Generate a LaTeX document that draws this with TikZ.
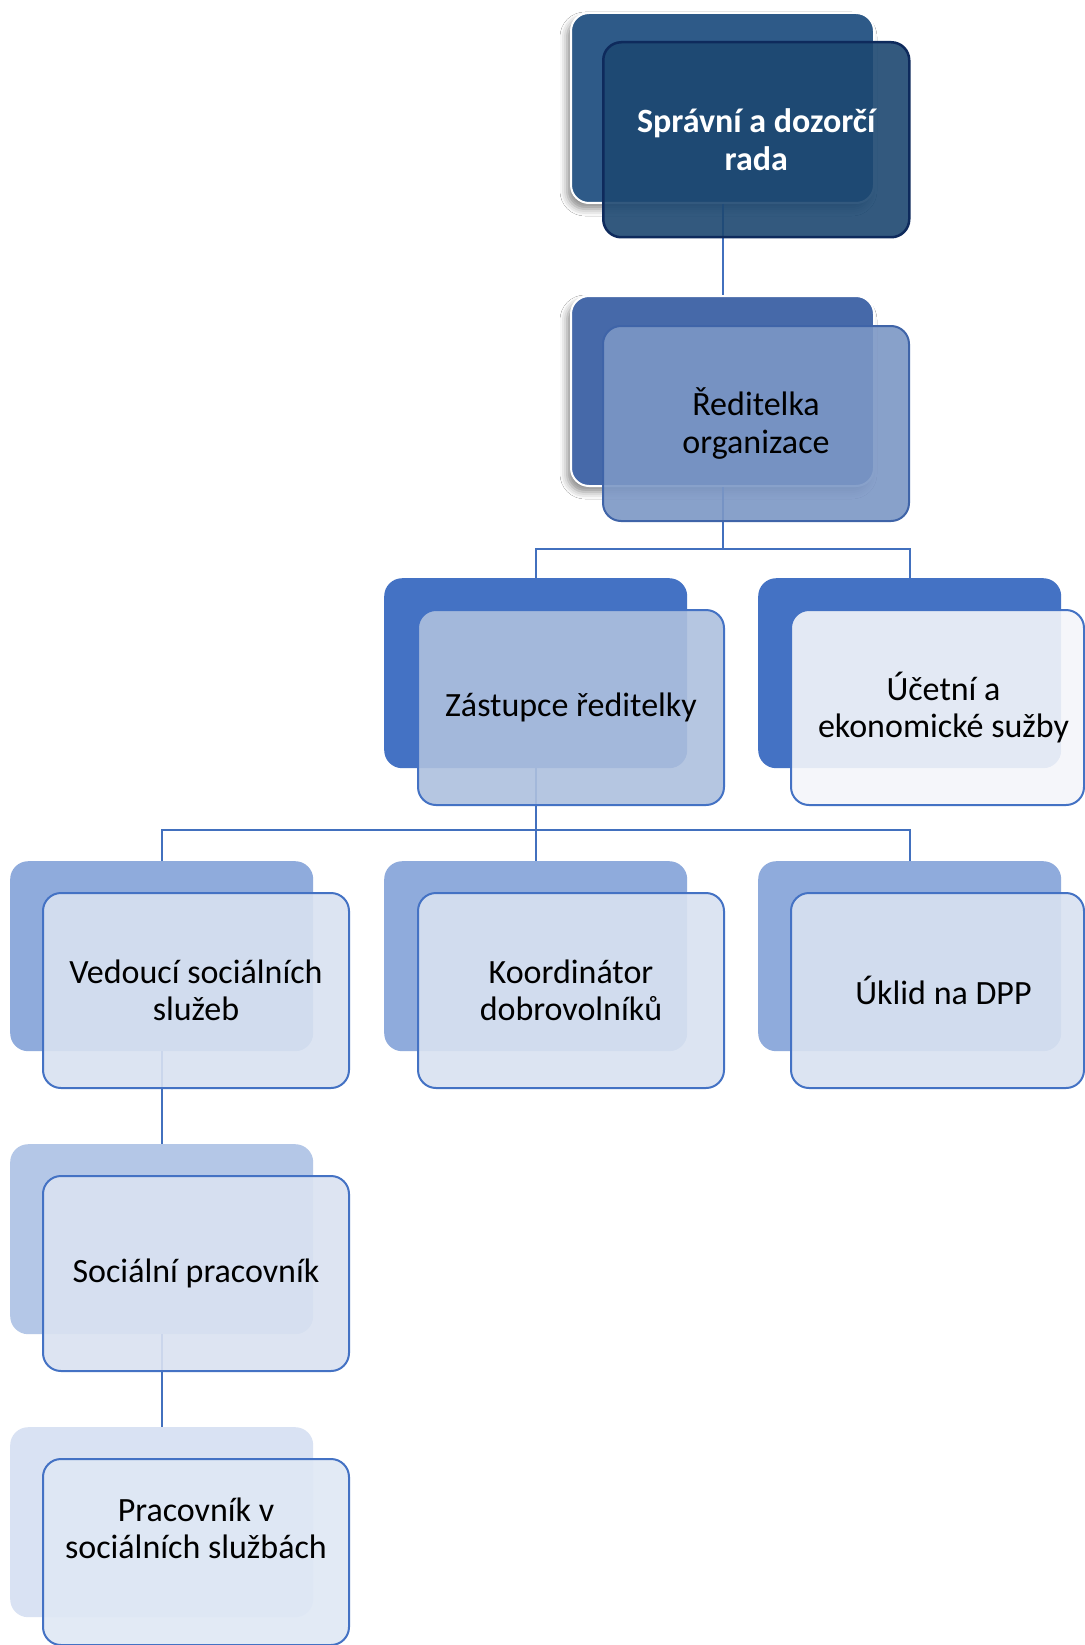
\documentclass[tikz,border=0pt]{standalone}
\usepackage{fontspec}
\setmainfont{Carlito}
\usetikzlibrary{shadows.blur}
\definecolor{conncol}{HTML}{4270BE}
\definecolor{bk1}{HTML}{2E5A88}
\definecolor{fr1}{HTML}{1D4871}
\definecolor{bd1}{HTML}{0E2A5C}
\definecolor{bk2}{HTML}{4669A9}
\definecolor{fr2}{HTML}{7C97C5}
\definecolor{bd2}{HTML}{3F64A8}
\definecolor{bk3}{HTML}{4472C4}
\definecolor{fr3a}{HTML}{AEC0DE}
\definecolor{fr3b}{HTML}{F5F6FA}
\definecolor{bk4}{HTML}{8FABDC}
\definecolor{fr4}{HTML}{D9E2F1}
\definecolor{bk5}{HTML}{B4C7E7}
\definecolor{fr5}{HTML}{DAE2F1}
\definecolor{bk6}{HTML}{D9E2F3}
\definecolor{fr6}{HTML}{DFE8F5}
\definecolor{bdx}{HTML}{4472C4}
\begin{document}
\begin{tikzpicture}[x=1pt,y=-1pt,
  backbox/.style={rounded corners=18pt, minimum width=303pt, minimum height=190pt,
    inner sep=0pt, anchor=north west, draw=none},
  topback/.style={backbox, draw=white, line width=2pt,
    blur shadow={shadow xshift=-4pt, shadow yshift=-6pt, shadow blur radius=7pt, shadow opacity=45}},
  frontbox/.style={rounded corners=18pt, minimum width=306pt, minimum height=195pt,
    inner sep=0pt, anchor=north west, line width=2pt, align=center,
    font=\fontsize{34}{37.5}\selectfont, fill opacity=0.9, text opacity=1, text=black, draw=bdx},
  conn/.style={draw=conncol, line width=2pt}]
\useasboundingbox (0,0) rectangle (1084,1645);
\fill[white] (0,0) rectangle (1084,1645);

% back boxes
\node[topback, fill=bk1] (b1) at (570,12) {};
\node[topback, fill=bk2] (b2) at (570,295) {};
\node[backbox, fill=bk3] (b3a) at (384,578) {};
\node[backbox, fill=bk3] (b3b) at (758,578) {};
\node[backbox, fill=bk4] (b4a) at (10,861) {};
\node[backbox, fill=bk4] (b4b) at (384,861) {};
\node[backbox, fill=bk4] (b4c) at (758,861) {};
\node[backbox, fill=bk5] (b5) at (10,1144) {};
\node[backbox, fill=bk6] (b6) at (10,1427) {};

% connectors
\draw[conn] (b1.south) -- (b2.north);
\draw[conn] (b2.south) -- ++(0,62) coordinate (j2) -| (b3a.north);
\draw[conn] (j2) -| (b3b.north);
\draw[conn] (b3a.south) -- ++(0,62) coordinate (j3) -| (b4a.north);
\draw[conn] (j3) -- (b4b.north);
\draw[conn] (j3) -| (b4c.north);
\draw[conn] (b4a.south) -- (b5.north);
\draw[conn] (b5.south) -- (b6.north);

% front boxes
\node[frontbox, fill=fr1, draw=bd1, line width=2.5pt, text=white, font=\fontsize{34}{37.5}\selectfont\bfseries] (f1) at (602,41) {Správní a dozorčí\\rada};
\node[frontbox, fill=fr2, draw=bd2] (f2) at (602,325) {Ředitelka\\organizace};
\node[frontbox, fill=fr3a] (f3a) at (417,609) {Zástupce ředitelky};
\node[frontbox, fill=fr3b, minimum width=293pt] (f3b) at (790,609) {\hspace*{12pt}Účetní a\\\hspace*{12pt}ekonomické sužby};
\node[frontbox, fill=fr4] (f4a) at (42,892) {Vedoucí sociálních\\služeb};
\node[frontbox, fill=fr4] (f4b) at (417,892) {Koordinátor\\dobrovolníků};
\node[frontbox, fill=fr4, minimum width=293pt] (f4c) at (790,892) {\hspace*{12pt}Úklid na DPP};
\node[frontbox, fill=fr5] (f5) at (42,1175) {Sociální pracovník};
\node[frontbox, fill=fr6, minimum height=186pt] (f6) at (42,1458) {Pracovník v\\sociálních službách\\[10pt]\mbox{}};
\end{tikzpicture}
\end{document}
